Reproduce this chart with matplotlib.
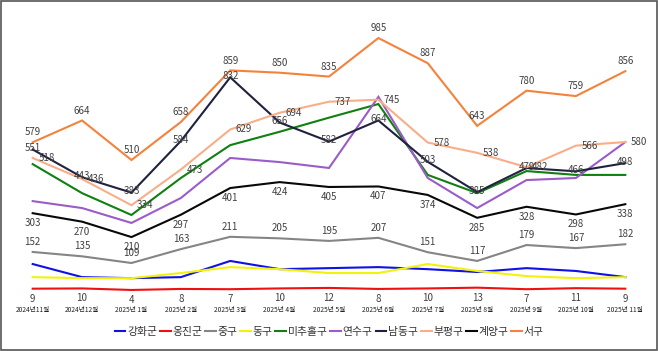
import matplotlib
matplotlib.use("Agg")
import matplotlib.pyplot as plt
from matplotlib.patches import Rectangle

plt.rcParams['font.family'] = ['Noto Sans CJK KR', 'DejaVu Sans']

months = ["2024년11월", "2024년12월", "2025년 1월", "2025년 2월", "2025년 3월", "2025년 4월",
          "2025년 5월", "2025년 6월", "2025년 7월", "2025년 8월", "2025년 9월", "2025년 10월", "2025년 11월"]

ganghwa = [105, 54, 50, 54, 117, 85, 89, 93, 85, 74, 89, 78, 54]
ongjin = [9, 10, 4, 8, 7, 10, 12, 8, 10, 13, 7, 11, 9]
junggu = [152, 135, 109, 163, 211, 205, 195, 207, 151, 117, 179, 167, 182]
donggu = [54, 50, 50, 70, 93, 85, 70, 70, 105, 78, 58, 50, 54]
michuhol = [494, 381, 296, 440, 568, 620, 675, 728, 452, 381, 467, 452, 452]
yeonsu = [350, 323, 265, 362, 518, 502, 479, 756, 440, 323, 432, 440, 580]
namdong = [551, 443, 383, 584, 832, 656, 582, 664, 503, 385, 479, 466, 498]
bupyeong = [518, 436, 334, 473, 629, 694, 737, 745, 578, 538, 482, 566, 580]
gyeyang = [303, 270, 210, 297, 401, 424, 405, 407, 374, 285, 328, 298, 338]
seogu = [579, 664, 510, 658, 859, 850, 835, 985, 887, 643, 780, 759, 856]

series = [
    ("강화군", ganghwa, "#1010E8", None),
    ("옹진군", ongjin, "#EE1111", "below"),
    ("중구", junggu, "#858585", "above"),
    ("동구", donggu, "#F2F20A", None),
    ("미추홀구", michuhol, "#108010", None),
    ("연수구", yeonsu, "#9A5CC8", None),
    ("남동구", namdong, "#20213F", "center"),
    ("부평구", bupyeong, "#F8AE88", "right"),
    ("계양구", gyeyang, "#080808", "below"),
    ("서구", seogu, "#F5823C", "above"),
]

fig = plt.figure(figsize=(6.58, 3.51), dpi=100)
ax = fig.add_axes([8 / 658, 60 / 351, 642 / 658, 282.5 / 351])
x = list(range(len(months)))

label_color = "#404040"
for name, vals, color, pos in series:
    ax.plot(x, vals, color=color, lw=1.5, label=name, solid_joinstyle='miter')
    if pos is None:
        continue
    for xi, v in zip(x, vals):
        if pos == "above":
            ax.annotate(str(v), (xi, v), xytext=(0, 3.5), textcoords="offset points",
                        ha="center", va="bottom", fontsize=7, color=label_color)
        elif pos == "below":
            ax.annotate(str(v), (xi, v), xytext=(0, -3.5), textcoords="offset points",
                        ha="center", va="top", fontsize=7, color=label_color)
        elif pos == "center":
            ax.annotate(str(v), (xi, v), xytext=(0, 1), textcoords="offset points",
                        ha="center", va="center", fontsize=7, color=label_color)
        elif pos == "right":
            ax.annotate(str(v), (xi, v), xytext=(4, 0), textcoords="offset points",
                        ha="left", va="center", fontsize=7, color=label_color)

ax.set_xlim(-0.5, len(months) - 0.5)
ax.set_ylim(0, 1100)
ax.set_xticks(x)
ax.set_xticklabels(months, fontsize=4.8, color="#222222")
ax.tick_params(axis='x', length=0, pad=11)
ax.set_yticks([])
for s in ax.spines.values():
    s.set_visible(False)

leg = fig.legend(loc="center", bbox_to_anchor=(329 / 658, 1 - 332 / 351), ncol=10, frameon=False,
                 fontsize=7.8, handlelength=1.0, handletextpad=0.15, columnspacing=0.25,
                 labelcolor="#333333")

fig.add_artist(Rectangle((0.0015, 0.003), 0.997, 0.994, transform=fig.transFigure,
                         fill=False, edgecolor="#555555", lw=1.2))

fig.savefig("out.png", dpi=100)
